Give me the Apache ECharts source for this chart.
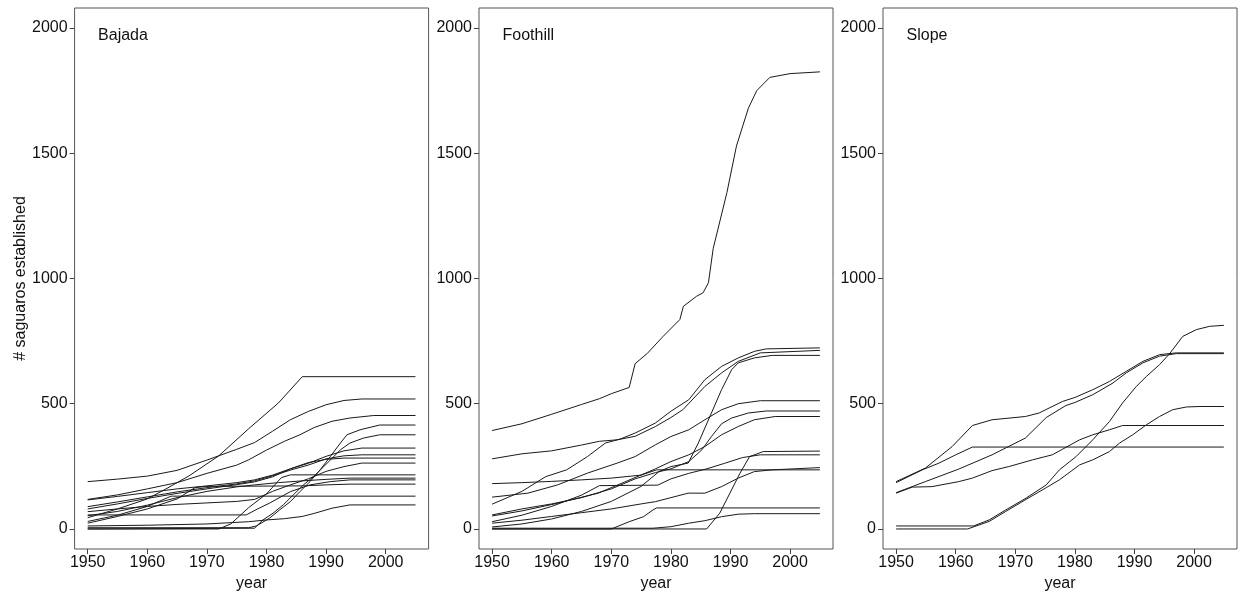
<!DOCTYPE html>
<html>
<head>
<meta charset="utf-8">
<script src="https://cdn.jsdelivr.net/npm/echarts@6/dist/echarts.min.js"></script>
<style>
  html, body { margin: 0; padding: 0; background: #fff; }
  #chart { width: 1243px; height: 600px; }
</style>
</head>
<body>
<div id="chart"></div>
<script>
// Cumulative saguaro establishment per plot, 1950-2005, by habitat.
const panelTitles = ['Bajada', 'Foothill', 'Slope'];
const yearTicks = [1950, 1960, 1970, 1980, 1990, 2000];
const countTicks = [0, 500, 1000, 1500, 2000];

const bajada = [
  [[1950,45],[1955,80],[1960,120],[1963,158],[1967,212],[1972,292],[1977,400],[1982,503],[1986,608],[2005,608]],
  [[1950,189],[1955,199],[1960,211],[1965,234],[1970,275],[1975,318],[1978,345],[1981,390],[1984,436],[1987,469],[1990,496],[1993,513],[1996,519],[2005,519]],
  [[1950,118],[1955,136],[1960,160],[1965,185],[1970,222],[1975,255],[1977,276],[1980,315],[1983,350],[1985.6,376],[1988,405],[1991,430],[1994,443],[1998,453],[2005,453]],
  [[1950,5],[1977,5],[1978.3,12],[1980.5,43],[1982.2,76],[1984,109],[1985.6,149],[1987.3,189],[1989,236],[1990.7,289],[1992.4,343],[1993.5,376],[1995.7,396],[1999,415],[2005,415]],
  [[1950,0],[1978,3],[1979.4,36],[1981.1,63],[1982.8,96],[1984.5,136],[1986.2,176],[1987.9,209],[1989.6,249],[1991.3,289],[1992.4,316],[1994,343],[1996.3,363],[1999,376],[2005,376]],
  [[1950,116],[1955,130],[1960,145],[1965,160],[1970,172],[1975,185],[1978,196],[1981,215],[1984,240],[1987,262],[1990,290],[1993,312],[1996,323],[2005,323]],
  [[1950,89],[1955,108],[1960,128],[1965,148],[1970,165],[1975,180],[1978,192],[1981,212],[1984,235],[1987,255],[1990,280],[1993,292],[1996,296],[2005,296]],
  [[1950,80],[1955,100],[1960,122],[1965,142],[1970,160],[1975,177],[1978,188],[1981,208],[1984,240],[1987,265],[1990,278],[1993,283],[2005,283]],
  [[1950,69],[1955,80],[1960,90],[1965,98],[1970,104],[1975,110],[1978,118],[1981,150],[1984,176],[1987,200],[1990,230],[1993,249],[1996,263],[2005,263]],
  [[1950,0],[1972,0],[1974,20],[1977,85],[1980,140],[1982.5,205],[1984,216],[2005,216]],
  [[1950,53],[1955,70],[1960,95],[1965,125],[1970,150],[1975,168],[1978,176],[1982,185],[1986,192],[1990,198],[1994,203],[2005,203]],
  [[1950,56],[1976.6,56],[1978.5,80],[1980.5,103],[1984,149],[1987.3,176],[1990.7,189],[1994,196],[2005,196]],
  [[1950,23],[1955,50],[1960,80],[1965,120],[1968,165],[1970,170],[1986,172],[1990,176],[1994,179],[2005,179]],
  [[1950,30],[1955,55],[1960,90],[1964,131],[2005,131]],
  [[1950,12],[1960,15],[1970,20],[1977,29],[1980,36],[1983,41],[1986,50],[1988,62],[1991,83],[1994,96],[2005,96]]
];

const foothill = [
  [[1950,393],[1955,420],[1960,458],[1965,497],[1968,520],[1970,540],[1973,565],[1974,660],[1976,700],[1978.7,769],[1981.5,836],[1982.1,889],[1984.3,929],[1985.4,943],[1986.3,983],[1987.1,1120],[1989.4,1343],[1991,1529],[1993,1680],[1994.4,1750],[1996.6,1803],[2000,1818],[2005,1825]],
  [[1950,99],[1955,150],[1959,209],[1962.5,236],[1966,289],[1969,343],[1971.5,359],[1974,383],[1977.4,423],[1980,470],[1983,516],[1985.7,596],[1988.5,649],[1991.3,683],[1994,709],[1996,719],[2005,723]],
  [[1950,280],[1955,300],[1960,312],[1965,335],[1968,350],[1971,356],[1974,370],[1977.4,409],[1980,445],[1982,476],[1985.7,569],[1988.5,623],[1991.3,669],[1995,703],[2005,713]],
  [[1950,8],[1955,20],[1960,40],[1965,70],[1970,110],[1975,170],[1978,229],[1980,249],[1982.9,263],[1984.6,343],[1986.8,463],[1988.5,556],[1990.2,636],[1991.3,663],[1994,683],[1997,693],[2005,693]],
  [[1950,127],[1956,143],[1961,176],[1966,223],[1971,263],[1974,289],[1977.4,336],[1980,369],[1983,396],[1985.7,436],[1988.5,476],[1991.3,500],[1995,512],[2005,512]],
  [[1950,56],[1955,80],[1960,100],[1965,125],[1970,160],[1974,200],[1977.4,225],[1980,240],[1983,269],[1985.2,316],[1986.8,369],[1988.5,420],[1990.2,443],[1993,463],[1996,471],[2005,471]],
  [[1950,52],[1955,72],[1960.5,100],[1967.8,143],[1972,185],[1977.4,240],[1980,269],[1983,296],[1985.7,329],[1988.5,376],[1991.3,409],[1994,436],[1997.5,449],[2005,449]],
  [[1950,0],[1986,0],[1988.2,63],[1989.9,143],[1991.6,223],[1993.2,289],[1995.5,309],[2005,311]],
  [[1950,29],[1955,55],[1960,90],[1965,135],[1968,173],[1977.8,175],[1980,200],[1983,222],[1986,240],[1989,262],[1992,285],[1995,296],[2005,296]],
  [[1950,23],[1955,35],[1960,50],[1965,65],[1970,80],[1975,100],[1977.4,109],[1980,125],[1982.9,143],[1985.7,143],[1988.5,169],[1991.3,203],[1994,229],[1997,236],[2005,245]],
  [[1950,181],[1955,185],[1960,190],[1965,196],[1970,203],[1975,215],[1977.6,236],[2005,236]],
  [[1950,0],[1970,0],[1973,29],[1975.4,49],[1977,76],[1977.6,84],[2005,84]],
  [[1950,3],[1977,3],[1980,9],[1983,23],[1985.7,33],[1988.5,49],[1991.3,59],[1994,61],[2005,61]]
];

const slope = [
  [[1950,185],[1954.4,236],[1957.2,263],[1960,296],[1962.8,327],[2005,327]],
  [[1950,189],[1954.9,243],[1959.4,329],[1962.8,413],[1966.1,436],[1971.7,449],[1974,463],[1977.9,509],[1980,525],[1983,556],[1985.8,589],[1988.6,629],[1991.4,669],[1994.2,696],[1997,703],[2005,703]],
  [[1950,145],[1954.9,189],[1960.5,239],[1966.1,296],[1971.7,363],[1975.2,445],[1978.5,493],[1980,505],[1983,536],[1986.4,583],[1988.6,623],[1991.4,663],[1994.2,690],[1997,700],[2005,700]],
  [[1950,143],[1952.7,167],[1956,169],[1960.5,189],[1962.8,203],[1966.1,233],[1968.9,249],[1972.9,276],[1976.2,296],[1977.9,318],[1980.8,356],[1983,376],[1985.8,396],[1988,413],[2005,413]],
  [[1950,12],[1963,12],[1965.6,36],[1968.4,76],[1971.8,123],[1975.2,176],[1977.4,236],[1980.2,289],[1983,356],[1985.8,429],[1988,503],[1990.3,569],[1992,609],[1994.2,656],[1995.9,700],[1998.1,769],[2000.4,796],[2002.6,809],[2005,813]],
  [[1950,0],[1962,0],[1965.6,30],[1968.4,70],[1971.8,118],[1975.2,165],[1977.4,196],[1980.8,256],[1983,276],[1985.8,309],[1987.5,343],[1989.7,376],[1992,416],[1994.2,449],[1996.4,476],[1998.7,487],[2001,489],[2005,489]]
];

const panels = [bajada, foothill, slope];
const gridLefts = [74.6, 479, 883];
const gridWidth = 354;
const font = '"Liberation Sans", Arial, sans-serif';
const plainNumber = function (v) { return String(v); };

const chart = echarts.init(document.getElementById('chart'), null, { renderer: 'canvas' });

const grids = [], xAxes = [], yAxes = [], series = [], titles = [];
panels.forEach(function (lines, p) {
  grids.push({
    left: gridLefts[p], top: 8, width: gridWidth, height: 541,
    show: true, borderColor: '#555', borderWidth: 1, backgroundColor: 'transparent'
  });
  xAxes.push({
    type: 'value', gridIndex: p, min: 1947.8, max: 2007.2, position: 'bottom',
    name: 'year', nameLocation: 'middle', nameGap: 27,
    nameTextStyle: { fontFamily: font, fontSize: 16, color: '#111' },
    axisLine: { show: false, onZero: false },
    splitLine: { show: false },
    axisTick: { show: true, length: 5, inside: false, customValues: yearTicks, lineStyle: { color: '#444' } },
    axisLabel: { customValues: yearTicks, formatter: plainNumber, margin: 6, fontFamily: font, fontSize: 16, color: '#111' }
  });
  yAxes.push({
    type: 'value', gridIndex: p, min: -80, max: 2080, position: 'left',
    name: p === 0 ? '# saguaros established' : '',
    nameLocation: 'middle', nameGap: 37,
    nameTextStyle: { fontFamily: font, fontSize: 16, color: '#111' },
    axisLine: { show: false, onZero: false },
    splitLine: { show: false },
    axisTick: { show: true, length: 5, inside: false, customValues: countTicks, lineStyle: { color: '#444' } },
    axisLabel: { customValues: countTicks, formatter: plainNumber, margin: 7, fontFamily: font, fontSize: 16, color: '#111' }
  });
  titles.push({
    text: panelTitles[p], left: gridLefts[p] + 18.5, top: 23,
    textStyle: { fontFamily: font, fontSize: 16, fontWeight: 'normal', color: '#111' }
  });
  lines.forEach(function (pts) {
    series.push({
      type: 'line', xAxisIndex: p, yAxisIndex: p, data: pts,
      showSymbol: false, symbol: 'none', silent: true,
      lineStyle: { color: '#1a1a1a', width: 1 },
      emphasis: { disabled: true }
    });
  });
});

chart.setOption({
  animation: false,
  backgroundColor: '#fff',
  title: titles,
  grid: grids,
  xAxis: xAxes,
  yAxis: yAxes,
  series: series
});
</script>
</body>
</html>
